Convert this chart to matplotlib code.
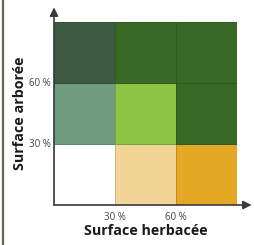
import numpy as np
import matplotlib
matplotlib.use("Agg")
import matplotlib.pyplot as plt
from matplotlib.colors import ListedColormap
from matplotlib.lines import Line2D

# Classes of land cover by tree / herb share (rows: tree low->high, cols: herb low->high)
class_grid = [
    [0, 1, 2],
    [3, 4, 5],
    [6, 5, 5],
]
class_colors = ["#ffffff", "#f2d596", "#e4a824",
                "#6f9c7d", "#8cc443", "#386a26",
                "#3c5b41"]
tick_labels = ["30 %", "60 %"]
x_title = "Surface herbacée"
y_title = "Surface arborée"

plt.rcParams['font.family'] = ['Open Sans', 'DejaVu Sans']

fig = plt.figure(figsize=(2.55, 2.45), dpi=100)
ax = fig.add_axes([54 / 255, 40 / 245, 183 / 255, 183 / 245])

cmap = ListedColormap(class_colors)
ax.pcolormesh(np.arange(4), np.arange(4), np.array(class_grid), cmap=cmap,
              vmin=-0.5, vmax=len(class_colors) - 0.5,
              edgecolors=(0, 0, 0, 0.15), linewidth=0.5)
ax.set_xlim(0, 3)
ax.set_ylim(0, 3)

for s in ax.spines.values():
    s.set_visible(False)

ax.set_xticks([1, 2])
ax.set_xticklabels(tick_labels)
ax.set_yticks([1, 2])
ax.set_yticklabels(tick_labels)
ax.tick_params(length=0, labelsize=7, colors="#444444")
ax.tick_params(axis="y", pad=2)
ax.tick_params(axis="x", pad=5)
for lbl in ax.get_yticklabels():
    lbl.set_verticalalignment("center")

# axis arrows
arrow = dict(arrowstyle="-|>,head_width=0.25,head_length=0.5", color="#3a3a3a", lw=1.2,
             shrinkA=0, shrinkB=0)
ax.annotate("", xy=(0, 1.08), xytext=(0, 0), xycoords="axes fraction",
            arrowprops=arrow, annotation_clip=False)
ax.annotate("", xy=(1.08, 0), xytext=(0, 0), xycoords="axes fraction",
            arrowprops=arrow, annotation_clip=False)

ax.set_xlabel(x_title, fontsize=10.3, fontweight="bold", color="#1a1a1a", labelpad=1)
ax.set_ylabel(y_title, fontsize=10.3, fontweight="bold", color="#1a1a1a", labelpad=2)

# left border of the card
fig.add_artist(Line2D([3.5 / 255, 3.5 / 255], [0, 1], color="#6b6552", lw=1.6,
                      transform=fig.transFigure))

fig.savefig("out.png", dpi=100)
